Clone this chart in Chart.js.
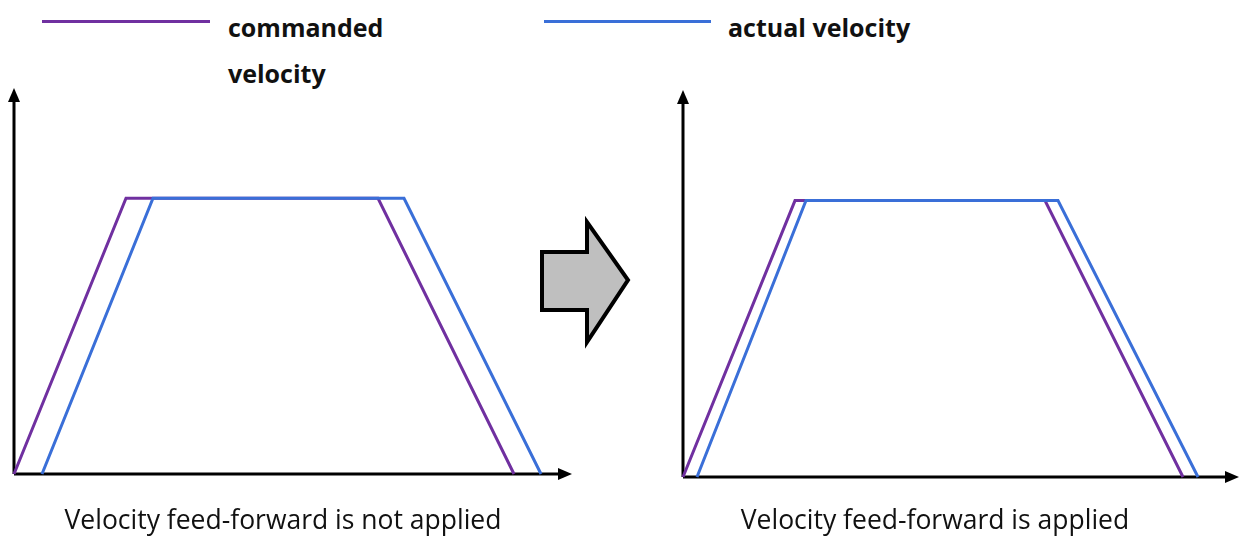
<!DOCTYPE html>
<html>
<head>
<meta charset="utf-8">
<script src="https://cdn.jsdelivr.net/npm/chart.js@4"></script>
<style>
  body { margin: 0; background: #fff; width: 1245px; height: 537px; position: relative; overflow: hidden; font-family: "Open Sans", "Noto Sans", sans-serif; }
  canvas { position: absolute; top: 0; }
  .leg-line { position: absolute; height: 3px; }
  .leg-text { position: absolute; font-weight: bold; font-size: 25px; color: #111; line-height: 46px; }
  .caption { position: absolute; font-size: 26.5px; color: #111; text-align: center; top: 501px; white-space: nowrap; }
</style>
</head>
<body>
<div class="leg-line" style="left:42px;top:20px;width:168px;background:#7030a0"></div>
<div class="leg-text" style="left:228px;top:4px">commanded<br>velocity</div>
<div class="leg-line" style="left:544px;top:20px;width:167px;background:#3a6fd8"></div>
<div class="leg-text" style="left:728px;top:4px">actual velocity</div>

<canvas id="leftChart" width="622" height="537" style="left:0"></canvas>
<canvas id="rightChart" width="623" height="537" style="left:622px"></canvas>

<svg style="position:absolute;left:0;top:0" width="1245" height="537">
  <polygon points="542,252 587,252 587,222 628,280 587,342 587,310 542,310" fill="#bfbfbf" stroke="#000" stroke-width="4" stroke-linejoin="miter"/>
</svg>

<div class="caption" style="left:33px;width:500px">Velocity feed-forward is not applied</div>
<div class="caption" style="left:685px;width:500px">Velocity feed-forward is applied</div>

<script>
// vitesse normalisée, temps en unités arbitraires
const velocity = [0, 1, 1, 0];
const timeCmdLeft = [0, 1.12, 3.64, 5.00];
const timeActLeft = [0.28, 1.39, 3.90, 5.27];
const timeCmdRight = [0, 1.12, 3.62, 5.00];
const timeActRight = [0.14, 1.23, 3.75, 5.15];
const xMaxLeft = 5.58;
const xMaxRight = 5.56;
const yMax = 1.4;

const purple = '#7030a0';
const blue = '#3a6fd8';

function pts(times) {
    return times.map((t, i) => ({ x: t, y: velocity[i] }));
}

// dessine les axes avec flèches
const arrowAxes = {
    id: 'arrowAxes',
    beforeDatasetsDraw(chart) {
        const { ctx, scales: { x, y } } = chart;
        const x0 = x.getPixelForValue(0);
        const y0 = y.getPixelForValue(0);
        const x1 = x.getPixelForValue(x.max);
        const y1 = y.getPixelForValue(y.max);
        ctx.save();
        ctx.strokeStyle = '#000';
        ctx.fillStyle = '#000';
        ctx.lineWidth = 3;
        ctx.beginPath();
        ctx.moveTo(x0, y0);
        ctx.lineTo(x1 - 12, y0);
        ctx.moveTo(x0, y0);
        ctx.lineTo(x0, y1 + 12);
        ctx.stroke();
        ctx.beginPath();
        ctx.moveTo(x1, y0);
        ctx.lineTo(x1 - 14, y0 - 6);
        ctx.lineTo(x1 - 14, y0 + 6);
        ctx.closePath();
        ctx.fill();
        ctx.beginPath();
        ctx.moveTo(x0, y1);
        ctx.lineTo(x0 - 6, y1 + 14);
        ctx.lineTo(x0 + 6, y1 + 14);
        ctx.closePath();
        ctx.fill();
        ctx.restore();
    }
};

function makeChart(id, cmd, act, xMax, padding) {
    const ctx = document.getElementById(id).getContext('2d');
    return new Chart(ctx, {
        type: 'scatter',
        data: {
            datasets: [
                {
                    label: 'actual velocity',
                    data: pts(act),
                    showLine: true,
                    borderColor: blue,
                    borderWidth: 3,
                    pointRadius: 0,
                    clip: false,
                    tension: 0
                },
                {
                    label: 'commanded velocity',
                    data: pts(cmd),
                    showLine: true,
                    borderColor: purple,
                    borderWidth: 3,
                    pointRadius: 0,
                    clip: false,
                    tension: 0
                }
            ]
        },
        options: {
            responsive: false,
            animation: false,
            layout: { padding: padding },
            plugins: {
                legend: { display: false },
                tooltip: { enabled: false }
            },
            scales: {
                x: { type: 'linear', min: 0, max: xMax, display: false },
                y: { type: 'linear', min: 0, max: yMax, display: false }
            }
        },
        plugins: [arrowAxes]
    });
}

makeChart('leftChart', timeCmdLeft, timeActLeft, xMaxLeft, { left: 14, right: 50, top: 88, bottom: 63 });
makeChart('rightChart', timeCmdRight, timeActRight, xMaxRight, { left: 61, right: 6, top: 90, bottom: 60 });
</script>
</body>
</html>
